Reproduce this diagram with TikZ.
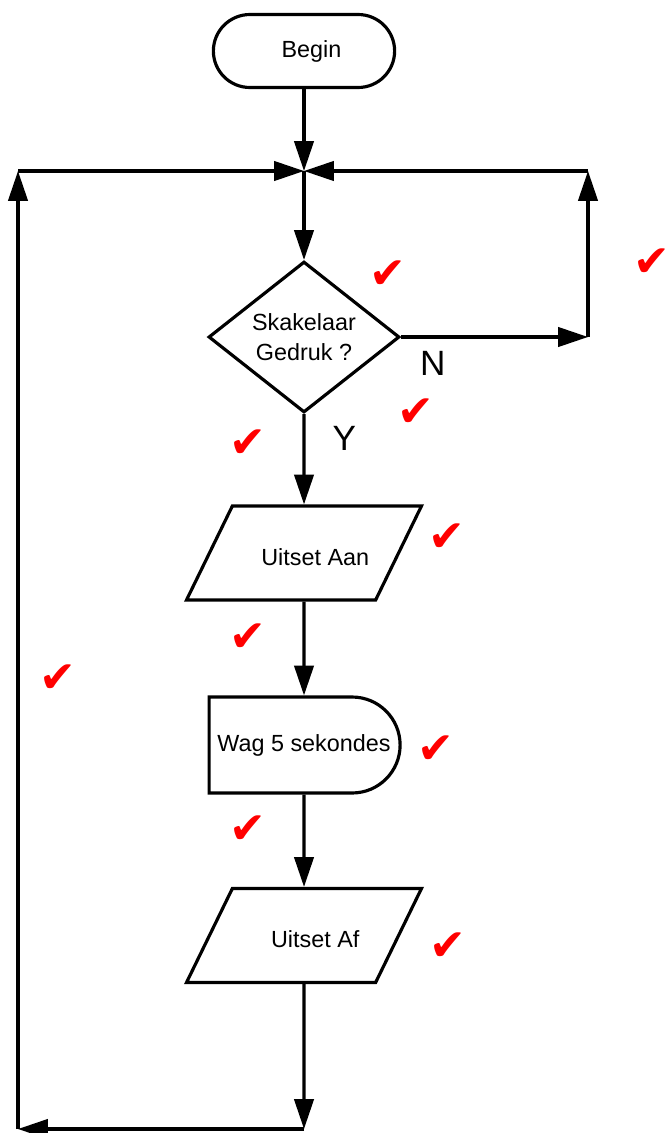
\documentclass[tikz,border=0pt]{standalone}
\usepackage{fontspec}
\setmainfont{Liberation Sans}
\newfontfamily\symfont{DejaVu Sans}
\usetikzlibrary{arrows.meta,shapes.geometric,shapes.misc}
\tikzset{>={Triangle[length=17pt,width=11pt]}}
\tikzset{
  base/.style={draw,line width=1.8pt,font=\fontsize{13.3}{17}\selectfont},
  terminal/.style={base,rounded rectangle,minimum width=3.86cm,minimum height=1.46cm},
  decision/.style={base,diamond,inner sep=0pt,minimum width=3.82cm,minimum height=2.88cm,align=center},
  io/.style={base,trapezium,trapezium left angle=64,trapezium right angle=116,trapezium stretches body=true,inner sep=0pt,text height=1.18cm,text depth=0.7cm,minimum width=4.7cm},
  delay/.style={base,rounded rectangle,rounded rectangle left arc=none,inner sep=0pt,minimum width=3.82cm,minimum height=1.92cm},
  yn/.style={font=\fontsize{20}{20}\selectfont},
  okmark/.style={text=red,font=\symfont\fontsize{25}{25}\selectfont},
}

\begin{document}
\begin{tikzpicture}[x=0.02cm,y=-0.02cm,line width=1.8pt]
\useasboundingbox (0,0) rectangle (670,1133);
\node[terminal] (begin) at (304,51) {\hspace{0.3cm}Begin};
\node[decision] (skakel) at (304,337) {Skakelaar\\Gedruk ?};
\node[io] (aan) at (304,553) {\hspace{0.45cm}Uitset Aan};
\node[delay] (wag) at (304,745) {\makebox[2cm]{Wag 5 sekondes}};
\node[io] (af) at (304,935.5) {\hspace{0.45cm}Uitset Af};
\coordinate (join) at (304,171);
\coordinate (ne) at (588,171);
\coordinate (e) at (588,337);
\coordinate (s) at (304,1129);
\coordinate (bl) at (18,1129);
\coordinate (tl) at (18,171);
\draw[->] (begin.south) -- (join);
\draw[->] (join) -- (skakel.north);
\draw[->] (skakel.east) -- node[yn,pos=0.17,below=4pt] {N} (e);
\draw[->] (e) -- (ne);
\draw[->] (ne) -- (join);
\draw[->] (skakel.south) -- node[yn,pos=0.27,right=12pt] {Y} (aan.north);
\draw[->] (aan.south) -- (wag.north);
\draw[->] (wag.south) -- (af.north);
\draw[->] (af.south) -- (s);
\draw[->] (s) -- (bl);
\draw[->] (bl) -- (tl);
\draw[->] (tl) -- (join);
\foreach \p [count=\i] in {(388,275),(652,263),(416,413),(248,444),(447,538),(248,638),(58,679),(436,750),(248,830),(448,947)}
  \node[okmark] (ok\i) at \p {✔};
\end{tikzpicture}
\end{document}
